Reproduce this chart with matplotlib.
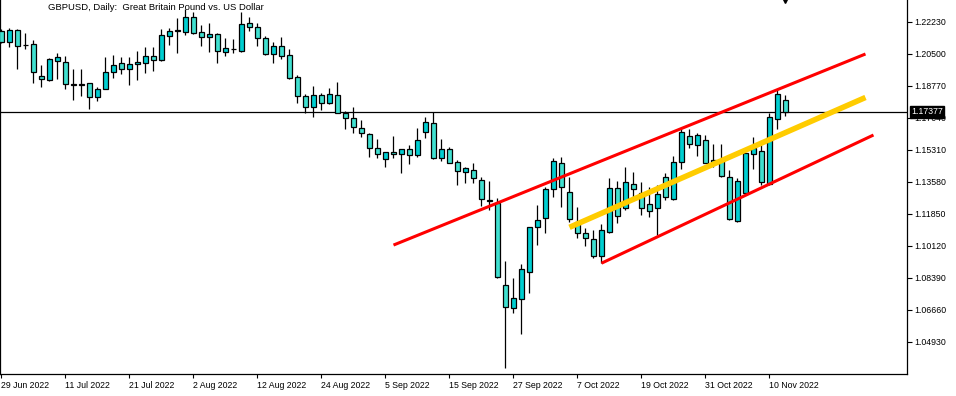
import numpy as np
import pandas as pd
import matplotlib
matplotlib.use("Agg")
import matplotlib.pyplot as plt
from matplotlib.patches import Rectangle

plt.rcParams['font.family'] = ['Liberation Sans', 'DejaVu Sans']

# daily bars, GBPUSD 29 Jun 2022 .. 14 Nov 2022
dates = pd.bdate_range('2022-06-29', '2022-11-14')
opens = [1.2176, 1.2117, 1.2180, 1.2098, 1.2102, 1.1929, 1.1909, 1.2014, 1.2005, 1.1888,
         1.1886, 1.1893, 1.1816, 1.1861, 1.1951, 1.2001, 1.1971, 1.1996, 1.2000, 1.2038,
         1.2019, 1.2149, 1.2174, 1.2171, 1.2248, 1.2167, 1.2140, 1.2157, 1.2062, 1.2079,
         1.2068, 1.2216, 1.2194, 1.2135, 1.2052, 1.2093, 1.2045, 1.1924, 1.1821, 1.1762,
         1.1827, 1.1784, 1.1828, 1.1733, 1.1702, 1.1648, 1.1618, 1.1540, 1.1481, 1.1520,
         1.1509, 1.1535, 1.1502, 1.1627, 1.1675, 1.1486, 1.1535, 1.1465, 1.1410, 1.1421,
         1.1369, 1.1262, 1.1246, 1.0801, 1.0675, 1.0724, 1.0873, 1.1113, 1.1162, 1.1319,
         1.1459, 1.1302, 1.1143, 1.1081, 1.1048, 1.0960, 1.1086, 1.1324, 1.1216, 1.1347,
         1.1297, 1.1239, 1.1216, 1.1383, 1.1264, 1.1465, 1.1607, 1.1558, 1.1583, 1.1468,
         1.1477, 1.1383, 1.1149, 1.1300, 1.1509, 1.1527, 1.1347, 1.1699, 1.1801]
highs = [1.2185, 1.2189, 1.2183, 1.2162, 1.2126, 1.1991, 1.2027, 1.2057, 1.2039, 1.1967,
         1.1969, 1.1895, 1.1870, 1.2034, 1.2045, 1.2035, 1.2035, 1.2065, 1.2086, 1.2086,
         1.2184, 1.2189, 1.2243, 1.2293, 1.2277, 1.2207, 1.2216, 1.2165, 1.2135, 1.2131,
         1.2279, 1.2252, 1.2216, 1.2147, 1.2113, 1.2140, 1.2075, 1.1935, 1.1834, 1.1877,
         1.1838, 1.1865, 1.1900, 1.1742, 1.1762, 1.1693, 1.1623, 1.1589, 1.1522, 1.1607,
         1.1537, 1.1558, 1.1650, 1.1711, 1.1735, 1.1589, 1.1549, 1.1477, 1.1441, 1.1459,
         1.1383, 1.1363, 1.1270, 1.0931, 1.0837, 1.0913, 1.1116, 1.1234, 1.1333, 1.1486,
         1.1492, 1.1383, 1.1221, 1.1108, 1.1099, 1.1131, 1.1378, 1.1363, 1.1438, 1.1411,
         1.1360, 1.1333, 1.1342, 1.1408, 1.1499, 1.1648, 1.1645, 1.1625, 1.1612, 1.1563,
         1.1563, 1.1423, 1.1378, 1.1522, 1.1600, 1.1558, 1.1733, 1.1855, 1.1828]
lows = [1.2110, 1.2090, 1.1971, 1.2079, 1.1895, 1.1873, 1.1906, 1.1915, 1.1861, 1.1803,
        1.1825, 1.1754, 1.1798, 1.1859, 1.1922, 1.1942, 1.1884, 1.1911, 1.1949, 1.1960,
        1.2014, 1.2099, 1.2057, 1.2153, 1.2158, 1.2093, 1.2062, 1.2000, 1.2039, 1.2057,
        1.2062, 1.2176, 1.2093, 1.2046, 1.2003, 1.2023, 1.1917, 1.1787, 1.1733, 1.1711,
        1.1747, 1.1780, 1.1729, 1.1645, 1.1621, 1.1600, 1.1495, 1.1489, 1.1441, 1.1489,
        1.1405, 1.1455, 1.1495, 1.1598, 1.1483, 1.1473, 1.1459, 1.1342, 1.1351, 1.1354,
        1.1228, 1.1207, 1.0837, 1.0351, 1.0648, 1.0535, 1.0760, 1.1017, 1.1084, 1.1279,
        1.1225, 1.1143, 1.1054, 1.1014, 1.0949, 1.0919, 1.1084, 1.1135, 1.1207, 1.1257,
        1.1180, 1.1167, 1.1072, 1.1261, 1.1261, 1.1427, 1.1543, 1.1500, 1.1459, 1.1437,
        1.1383, 1.1153, 1.1143, 1.1297, 1.1427, 1.1342, 1.1342, 1.1643, 1.1715]
closes = [1.2117, 1.2180, 1.2093, 1.2101, 1.1954, 1.1916, 1.2023, 1.2032, 1.1886, 1.1885,
          1.1883, 1.1819, 1.1859, 1.1951, 1.1991, 1.1967, 1.1994, 1.2007, 1.2039, 1.2019,
          1.2151, 1.2174, 1.2178, 1.2248, 1.2165, 1.2144, 1.2158, 1.2068, 1.2081, 1.2076,
          1.2211, 1.2198, 1.2135, 1.2050, 1.2093, 1.2041, 1.1922, 1.1823, 1.1762, 1.1827,
          1.1787, 1.1832, 1.1733, 1.1702, 1.1654, 1.1621, 1.1540, 1.1509, 1.1519, 1.1508,
          1.1535, 1.1502, 1.1583, 1.1681, 1.1489, 1.1535, 1.1462, 1.1419, 1.1432, 1.1378,
          1.1264, 1.1257, 1.0843, 1.0681, 1.0729, 1.0886, 1.1113, 1.1153, 1.1319, 1.1473,
          1.1329, 1.1156, 1.1081, 1.1054, 1.0960, 1.1099, 1.1324, 1.1176, 1.1356, 1.1319,
          1.1216, 1.1203, 1.1292, 1.1275, 1.1468, 1.1627, 1.1562, 1.1612, 1.1462, 1.1477,
          1.1390, 1.1156, 1.1365, 1.1513, 1.1540, 1.1356, 1.1708, 1.1832, 1.17377]

# drawn objects: trend channel (date, price anchors)
upper_line = (['2022-09-06', '2022-11-28'], [1.1017, 1.2050])
lower_line = (['2022-10-12', '2022-11-29'], [1.0919, 1.1612])
mid_line = (['2022-10-06', '2022-11-28'], [1.1113, 1.1815])

tick_labels = ['29 Jun 2022', '11 Jul 2022', '21 Jul 2022', '2 Aug 2022', '12 Aug 2022',
               '24 Aug 2022', '5 Sep 2022', '15 Sep 2022', '27 Sep 2022', '7 Oct 2022',
               '19 Oct 2022', '31 Oct 2022', '10 Nov 2022']
price_ticks = [1.04930, 1.06660, 1.08390, 1.10120, 1.11850, 1.13580,
               1.15310, 1.17040, 1.18770, 1.20500, 1.22230]
last_price = 1.17377

BULL, BEAR = '#00CED1', '#40E0D0'

all_days = pd.bdate_range('2022-06-29', '2022-12-31')
def pos(d):
    return all_days.get_loc(pd.Timestamp(d))

fig = plt.figure(figsize=(9.56, 3.96), dpi=100)
ax = fig.add_axes([0.0, 22 / 396, 907 / 956, 374 / 396])

ax.axhline(last_price, color='black', lw=0.9, zorder=1)

w = 0.6
for i in range(len(dates)):
    o, h, l, c = opens[i], highs[i], lows[i], closes[i]
    ax.vlines(i, l, h, color='black', lw=0.9, zorder=2)
    col = BULL if c >= o else BEAR
    ax.add_patch(Rectangle((i - w / 2, min(o, c)), w, max(abs(c - o), 1e-5),
                           facecolor=col, edgecolor='black', lw=0.9, zorder=3))

for (d, p), col, lw in [(upper_line, '#FF0000', 2.2), (lower_line, '#FF0000', 2.2),
                        (mid_line, '#FFCC00', 4.0)]:
    ax.plot([pos(x) for x in d], p, color=col, lw=lw, solid_capstyle='butt', zorder=4)

# small object marker at the top edge
ax.plot([97.9], [1.2339], marker='v', color='black', ms=2.8, zorder=5, clip_on=False)

ax.set_xlim(-0.1875, 113.19)
ax.set_ylim(1.0320, 1.23419)

ax.set_xticks(np.arange(0, len(dates), 8))
ax.set_xticklabels(tick_labels, ha='left', fontsize=6.3)
ax.tick_params(axis='x', direction='out', length=3, width=0.8, pad=2)

ax.yaxis.tick_right()
ax.set_yticks(price_ticks)
ax.set_yticklabels([f'{v:.5f}' for v in price_ticks], fontsize=6.3)
ax.tick_params(axis='y', direction='out', length=3.5, width=0.8, pad=1.5)

for s in ['left', 'bottom', 'right']:
    ax.spines[s].set_linewidth(0.9)
ax.spines['top'].set_visible(False)

ax.text(0.0525, 0.979, 'GBPUSD, Daily:  Great Britain Pound vs. US Dollar',
        transform=ax.transAxes, fontsize=6.8, va='center', ha='left')

ax.annotate(f'{last_price:.5f}', xy=(1.0, last_price), xycoords=('axes fraction', 'data'),
            xytext=(3, 0), textcoords='offset points', fontsize=6.3, color='white',
            va='center', ha='left', annotation_clip=False, zorder=10,
            bbox=dict(boxstyle='square,pad=0.15', facecolor='black', edgecolor='black'))

fig.savefig('out.png', dpi=100, facecolor='white')
